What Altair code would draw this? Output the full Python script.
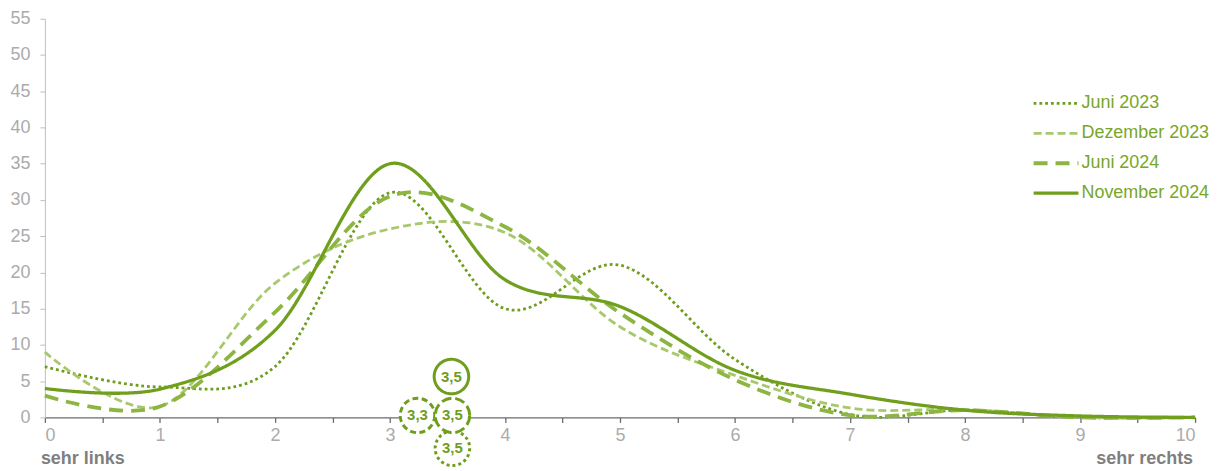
import altair as alt
import pandas as pd

# ---- data ----
x_values = [0, 1, 2, 3, 4, 5, 6, 7, 8, 9, 10]
juni_2023 = [7, 4.2, 7, 31, 15, 21, 8, 0.4, 1, 0, 0]
dezember_2023 = [9, 1.5, 18.5, 26, 25.5, 12.5, 5.8, 1.3, 1.1, 0, 0]
juni_2024 = [3, 1.5, 14.5, 30.5, 26.3, 14.4, 5.2, 0.3, 1, 0, 0]
november_2024 = [4, 3.9, 12, 35, 19, 15.3, 6.5, 3.2, 1, 0.2, 0]

series_names = ["Juni 2023", "Dezember 2023", "Juni 2024", "November 2024"]
series_values = [juni_2023, dezember_2023, juni_2024, november_2024]
mean_values = [3.5, 3.3, 3.5, 3.5]

y_ticks = [0, 5, 10, 15, 20, 25, 30, 35, 40, 45, 50, 55]
x_ticks = [i / 2 for i in range(21)]
end_labels = ["sehr links", "sehr rechts"]
end_x = [0, 10]

# ---- styles ----
colors = ["#6f9e1e", "#a8c86e", "#8cb542", "#6f9f1d"]
dashes = [[2.8, 3], [8, 4], [14, 8], [1, 0]]
widths = [2.8, 2.8, 3.8, 3.3]
marker_dash = [[3, 3], [6, 3.5], [10, 4], [1, 0]]
marker_dx = [5, -7, 5, 4]
marker_dy = [31, -2, -2, -41]
green = "#6f9e1e"
font = "Liberation Sans"

rows = []
for name, vals in zip(series_names, series_values):
    for x, v in zip(x_values, vals):
        rows.append({"series": name, "x": x, "y": v})
df = pd.DataFrame(rows)

x_scale = alt.Scale(domain=[0, 10], nice=False, zero=False)
y_scale = alt.Scale(domain=[0, 55], nice=False)

x_axis = alt.Axis(
    values=x_ticks, title=None, grid=False,
    labelExpr="datum.value % 1 ? '' : format(datum.value, 'd')",
    labelFontSize=18, labelColor="#ababab", labelFont=font,
    tickColor="#6b6b6b", domainColor="#6b6b6b", tickSize=5,
    labelPadding=4, domainWidth=1.3, tickWidth=1.3, labelOverlap=False)
y_axis = alt.Axis(
    values=y_ticks, title=None, grid=False,
    labelFontSize=18, labelColor="#ababab", labelFont=font,
    tickColor="#bfbfbf", domainColor="#bfbfbf", tickSize=5,
    labelPadding=10, labelOverlap=False)

legend = alt.Legend(
    orient="none", legendX=990, legendY=70, title=None,
    symbolType="stroke", symbolSize=2025, labelFontSize=18,
    labelColor="#78a62a", labelFont=font, labelOffset=1,
    clipHeight=30, rowPadding=0, labelLimit=400,
)

lines = alt.Chart(df).mark_line(interpolate="cardinal", strokeCap="butt").encode(
    x=alt.X("x:Q", scale=x_scale, axis=x_axis),
    y=alt.Y("y:Q", scale=y_scale, axis=y_axis),
    color=alt.Color("series:O", sort=series_names,
                    scale=alt.Scale(type="ordinal", domain=series_names, range=colors),
                    legend=legend),
    strokeDash=alt.StrokeDash("series:O", sort=series_names,
                              scale=alt.Scale(type="ordinal", domain=series_names, range=dashes),
                              legend=legend),
    strokeWidth=alt.StrokeWidth("series:O", sort=series_names,
                                scale=alt.Scale(type="ordinal", domain=series_names, range=widths),
                                legend=legend),
)

layers = [lines]

for i, name in enumerate(series_names):
    mdf = pd.DataFrame({
        "series": [name],
        "mean": [mean_values[i]],
        "y0": [0],
        "label": [f"{mean_values[i]:.1f}".replace(".", ",")],
    })
    circ = alt.Chart(mdf).mark_point(
        shape="circle", size=1200, filled=True, fill="white", stroke=green,
        strokeWidth=3, strokeDash=marker_dash[i], opacity=1, fillOpacity=1,
        xOffset=marker_dx[i], yOffset=marker_dy[i],
    ).encode(x=alt.X("mean:Q", scale=x_scale, axis=x_axis),
             y=alt.Y("y0:Q", scale=y_scale, axis=y_axis))
    txt = alt.Chart(mdf).mark_text(
        font=font, fontSize=15, fontWeight="bold", color=green, align="center",
        baseline="middle", xOffset=marker_dx[i], yOffset=marker_dy[i],
    ).encode(x=alt.X("mean:Q", scale=x_scale, axis=x_axis),
             y=alt.Y("y0:Q", scale=y_scale, axis=y_axis),
             text="label:N")
    layers += [circ, txt]

end_df = pd.DataFrame({"label": end_labels, "x": end_x})
left_lbl = alt.Chart(end_df).transform_filter("datum.x == 0").mark_text(
    font=font, fontSize=18, fontWeight="bold", color="#7f7f7f", align="left",
    baseline="middle", dx=-4,
).encode(x=alt.X("x:Q", scale=x_scale, axis=x_axis), y=alt.value(442), text="label:N")
right_lbl = alt.Chart(end_df).transform_filter("datum.x == 10").mark_text(
    font=font, fontSize=18, fontWeight="bold", color="#7f7f7f", align="right",
    baseline="middle", dx=-2,
).encode(x=alt.X("x:Q", scale=x_scale, axis=x_axis), y=alt.value(442), text="label:N")
layers += [left_lbl, right_lbl]

chart = alt.layer(*layers).properties(
    width=1154, height=400,
    autosize=alt.AutoSizeParams(type="none"),
    padding={"left": 37, "top": 10, "right": 25, "bottom": 54},
    background="white",
).configure_view(stroke=None)

chart.save("out.html", embed_options={"renderer": "svg", "actions": False})
